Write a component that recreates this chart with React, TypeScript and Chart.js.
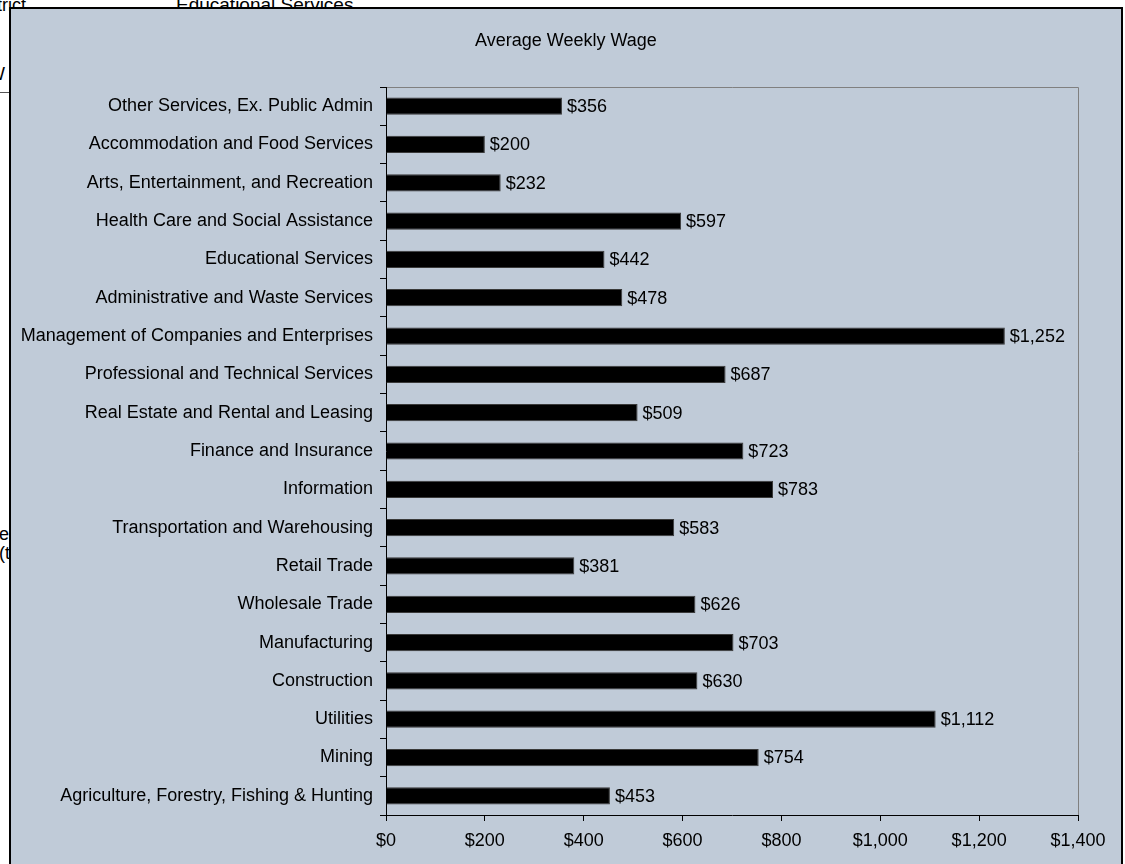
import React, { useEffect, useRef } from "react";
import { Chart, registerables } from "chart.js";

Chart.register(...registerables);

const chartTitle = "Average Weekly Wage";

const categories = [
  "Other Services, Ex. Public Admin",
  "Accommodation and Food Services",
  "Arts, Entertainment, and Recreation",
  "Health Care and Social Assistance",
  "Educational Services",
  "Administrative and Waste Services",
  "Management of Companies and Enterprises",
  "Professional and Technical Services",
  "Real Estate and Rental and Leasing",
  "Finance and Insurance",
  "Information",
  "Transportation and Warehousing",
  "Retail Trade",
  "Wholesale Trade",
  "Manufacturing",
  "Construction",
  "Utilities",
  "Mining",
  "Agriculture, Forestry, Fishing & Hunting",
];

const weeklyWages = [
  356, 200, 232, 597, 442, 478, 1252, 687, 509, 723, 783, 583, 381, 626, 703,
  630, 1112, 754, 453,
];

const xTickValues = [0, 200, 400, 600, 800, 1000, 1200, 1400];

const FONT = '"Liberation Sans", Arial, Helvetica, sans-serif';
const FONT_SIZE = 18;

const fmt = (v: number) => "$" + v.toLocaleString("en-US");

const framePlugin = {
  id: "frame",
  beforeDraw(chart: any) {
    const { ctx, chartArea } = chart;
    ctx.save();
    ctx.strokeStyle = "#808080";
    ctx.lineWidth = 1;
    ctx.beginPath();
    ctx.moveTo(chartArea.left, chartArea.top + 0.5);
    ctx.lineTo(chartArea.right + 0.5, chartArea.top + 0.5);
    ctx.lineTo(chartArea.right + 0.5, chartArea.bottom);
    ctx.stroke();
    ctx.restore();
  },
};

const titlePlugin = {
  id: "customTitle",
  afterDraw(chart: any) {
    const { ctx, width } = chart;
    ctx.save();
    ctx.fillStyle = "#000";
    ctx.font = `${FONT_SIZE}px ${FONT}`;
    ctx.textAlign = "center";
    ctx.textBaseline = "middle";
    ctx.fillText(chartTitle, width / 2, 32);
    ctx.restore();
  },
};

const valueLabelPlugin = {
  id: "valueLabels",
  afterDatasetsDraw(chart: any) {
    const { ctx } = chart;
    const meta = chart.getDatasetMeta(0);
    const data = chart.data.datasets[0].data as number[];
    ctx.save();
    ctx.fillStyle = "#000";
    ctx.font = `${FONT_SIZE}px ${FONT}`;
    ctx.textAlign = "left";
    ctx.textBaseline = "middle";
    meta.data.forEach((bar: any, i: number) => {
      ctx.fillText(fmt(data[i]), bar.x + 5, bar.y + 1);
    });
    ctx.restore();
  },
};

export default function App() {
  const canvasRef = useRef<HTMLCanvasElement | null>(null);

  useEffect(() => {
    if (!canvasRef.current) return;
    const chart = new Chart(canvasRef.current, {
      type: "bar",
      data: {
        labels: categories,
        datasets: [
          {
            data: weeklyWages,
            backgroundColor: "#000000",
            borderColor: "#3a3a3a",
            borderWidth: 1,
            barPercentage: 0.45,
            categoryPercentage: 1,
          },
        ],
      },
      options: {
        indexAxis: "y",
        responsive: false,
        animation: false,
        layout: { padding: { top: 78, right: 43, left: 0, bottom: 0 } },
        plugins: {
          legend: { display: false },
          title: { display: false },
          tooltip: { enabled: false },
        },
        scales: {
          x: {
            min: xTickValues[0],
            max: xTickValues[xTickValues.length - 1],
            afterFit(scale: any) {
              scale.height = 64;
            },
            afterBuildTicks(scale: any) {
              scale.ticks = xTickValues.map((v) => ({ value: v }));
            },
            grid: {
              display: true,
              drawOnChartArea: false,
              drawTicks: true,
              tickLength: 6,
              color: "#000",
            },
            border: { display: true, color: "#000", width: 1 },
            ticks: {
              color: "#000",
              padding: 9,
              maxRotation: 0,
              font: { family: FONT, size: FONT_SIZE },
              callback: (v: any) => fmt(Number(v)),
            },
          },
          y: {
            afterFit(scale: any) {
              scale.width = 375;
            },
            grid: {
              display: true,
              offset: true,
              drawOnChartArea: false,
              drawTicks: true,
              tickLength: 6,
              color: "#000",
            },
            border: { display: true, color: "#000", width: 1 },
            ticks: {
              color: "#000",
              padding: 7,
              autoSkip: false,
              font: { family: FONT, size: FONT_SIZE },
            },
          },
        },
      },
      plugins: [framePlugin, titlePlugin, valueLabelPlugin],
    });
    return () => chart.destroy();
  }, []);

  const bgText: React.CSSProperties = {
    position: "absolute",
    fontFamily: FONT,
    fontSize: 18,
    lineHeight: "20px",
    color: "#000",
    whiteSpace: "nowrap",
  };

  return (
    <div
      style={{
        position: "fixed",
        left: 0,
        top: 0,
        width: 1125,
        height: 864,
        overflow: "hidden",
        background: "#fff",
      }}
    >
      <span style={{ ...bgText, left: -3, top: -5 }}>trict</span>
      <span style={{ ...bgText, left: 176, top: -5, fontSize: 19 }}>Educational Services</span>
      <span style={{ ...bgText, left: -12, top: 64 }}>W</span>
      <div
        style={{
          position: "absolute",
          left: 0,
          top: 92,
          width: 10,
          height: 1,
          background: "#555",
        }}
      />
      <span style={{ ...bgText, left: -1, top: 524 }}>e</span>
      <span style={{ ...bgText, left: -1, top: 543 }}>(t</span>
      <div
        style={{
          position: "absolute",
          left: 9,
          top: 7,
          width: 1110,
          height: 880,
          border: "2px solid #000",
          background: "#C0CBD8",
        }}
      >
        <canvas
          ref={canvasRef}
          width={1110}
          height={870}
          style={{ display: "block", width: 1110, height: 870 }}
        />
      </div>
    </div>
  );
}
